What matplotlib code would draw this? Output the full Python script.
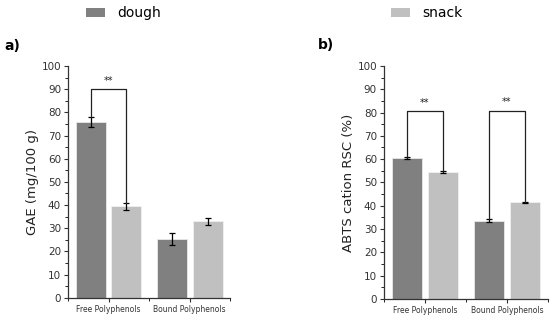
import numpy as np
import matplotlib
matplotlib.use('Agg')
import matplotlib.pyplot as plt
from matplotlib.patches import Patch

groups = ['Free Polyphenols', 'Bound Polyphenols']
series = ['dough', 'snack']
colors = ['#808080', '#c0c0c0']

gae_dough = [75.8, 25.4]
gae_dough_err = [2.2, 2.6]
gae_snack = [39.4, 33.0]
gae_snack_err = [1.5, 1.6]

abts_dough = [60.5, 33.6]
abts_dough_err = [0.3, 0.5]
abts_snack = [54.6, 41.4]
abts_snack_err = [0.5, 0.3]

gae_brackets = [(0, 90)]           # group index, bracket height
abts_brackets = [(0, 80.5), (1, 80.8)]

fig = plt.figure(figsize=(5.5, 3.2), dpi=100)
ax1 = fig.add_axes([0.1236, 0.0697, 0.295, 0.724])
ax2 = fig.add_axes([0.698, 0.066, 0.298, 0.728])

x = np.arange(1, len(groups) + 1)
w = 0.37
off = 0.22
axcol = '#333333'


def panel(ax, d, de, s, se, brackets, ylabel):
    ax.bar(x - off, d, w, color=colors[0], edgecolor='#e8e8e8', linewidth=0.6)
    ax.bar(x + off, s, w, color=colors[1], edgecolor='#f0f0f0', linewidth=0.6)
    ax.errorbar(x - off, d, yerr=de, fmt='none', ecolor='black', elinewidth=0.9, capsize=2.2, capthick=0.9)
    ax.errorbar(x + off, s, yerr=se, fmt='none', ecolor='black', elinewidth=0.9, capsize=2.2, capthick=0.9)
    for g, h in brackets:
        y0 = d[g] + de[g]
        y1 = s[g] + se[g]
        ax.plot([x[g] - off, x[g] - off, x[g] + off, x[g] + off], [y0, h, h, y1],
                color='#222222', lw=0.9)
        ax.text(x[g], h + 1.5, '**', ha='center', va='bottom', fontsize=7, color='#222222')
    ax.set_xlim(0.5, 2.5)
    ax.set_ylim(0, 100)
    ax.set_xticks(x)
    ax.set_xticklabels(groups, fontsize=5.5, color='#333333')
    ax.set_xticks([0.5, 1.5, 2.5], minor=True)
    ax.set_yticks(np.arange(0, 101, 10))
    ax.set_yticks(np.arange(0, 101, 5), minor=True)
    ax.tick_params(axis='y', labelsize=7.5, colors=axcol, length=3, width=0.8, pad=2)
    ax.tick_params(axis='y', which='minor', length=2, width=0.6)
    ax.tick_params(axis='x', length=3, width=0.8, pad=2, colors=axcol)
    ax.tick_params(axis='x', which='minor', length=2, width=0.6)
    for sp in ['top', 'right']:
        ax.spines[sp].set_visible(False)
    for sp in ['left', 'bottom']:
        ax.spines[sp].set_color(axcol)
        ax.spines[sp].set_linewidth(0.9)
    ax.set_ylabel(ylabel, fontsize=9.5, color='#222222', labelpad=2)


panel(ax1, gae_dough, gae_dough_err, gae_snack, gae_snack_err, gae_brackets, 'GAE (mg/100 g)')
panel(ax2, abts_dough, abts_dough_err, abts_snack, abts_snack_err, abts_brackets, 'ABTS cation RSC (%)')

fig.text(0.008, 0.855, 'a)', fontsize=10, fontweight='bold', va='center')
fig.text(0.578, 0.858, 'b)', fontsize=10, fontweight='bold', va='center')

handles = [Patch(facecolor=colors[0], edgecolor='none'), Patch(facecolor=colors[1], edgecolor='none')]
fig.legend(handles, series, loc='center left', bbox_to_anchor=(0.133, 0.958), ncol=2, frameon=False,
           fontsize=10, handlelength=1.4, handleheight=0.6, columnspacing=16.5, handletextpad=0.9)

fig.savefig('out.png', dpi=100)
